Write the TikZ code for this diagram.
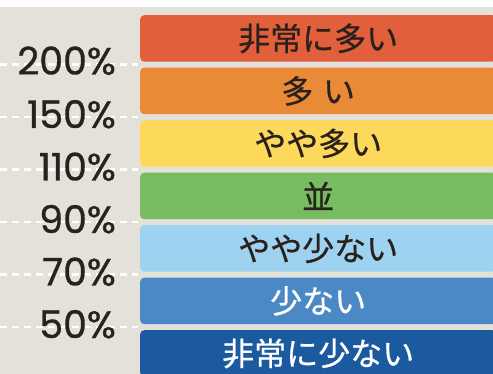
\documentclass[tikz,border=0pt]{standalone}
\usepackage{fontspec}
\setmainfont{Poppins}[FakeBold=0.9]
\newfontfamily\jpfont{Noto Sans CJK JP}[FakeBold=0.7]
\usetikzlibrary{positioning}

\definecolor{bgbeige}{HTML}{E4E0DA}
\definecolor{inkdark}{HTML}{2A211D}
\definecolor{lvA}{HTML}{E25F3B}
\definecolor{lvB}{HTML}{E98A36}
\definecolor{lvC}{HTML}{FDD95B}
\definecolor{lvD}{HTML}{77BC60}
\definecolor{lvE}{HTML}{9DD2F1}
\definecolor{lvF}{HTML}{4A88C6}
\definecolor{lvG}{HTML}{1B5A9F}

\begin{document}
\begin{tikzpicture}[x=1pt, y=-1pt,
	level/.style={anchor=north west, minimum width=356pt, minimum height=46.5pt, inner sep=0pt,
		rounded corners=4pt, font=\jpfont\fontsize{32}{32}\selectfont, text=inkdark},
	pct/.style={anchor=base east, inner sep=0pt, font=\fontsize{38}{38}\selectfont, text=inkdark},
	scale line/.style={white, line width=2.5pt, dash pattern=on 7pt off 5pt}]
		\useasboundingbox (0,0) rectangle (493,374);
		\fill[white] (0,0) rectangle (493,374);
		\fill[bgbeige] (0,7) rectangle (493,374);
		
		\node[level, fill=lvA] (vmany) at (140,15) {非常に多い};
		\node[level, fill=lvB] (many) at (140,67.5) {多\hspace{0.3em}い};
		\node[level, fill=lvC] (smany) at (140,120) {やや多い};
		\node[level, fill=lvD] (avg) at (140,172.5) {並};
		\node[level, fill=lvE] (sfew) at (140,225) {やや少ない};
		\node[level, fill=lvF, text=white] (few) at (140,277.5) {少ない};
		\node[level, fill=lvG, text=white] (vfew) at (140,330) {非常に少ない};
		
		\coordinate (l200) at (0,64.5);
		\coordinate (l150) at (0,117);
		\coordinate (l110) at (0,169.5);
		\coordinate (l90) at (0,222);
		\coordinate (l70) at (0,274.5);
		\coordinate (l50) at (0,327);
		\foreach \l in {l200,l150,l110,l90,l70,l50}
			\draw[scale line] (\l) -- ++(138,0);
		
		\node[pct] (p200) at (116,74.5) {200\%};
		\node[pct] (p150) at (116,128) {150\%};
		\node[pct] (p110) at (116,180.5) {110\%};
		\node[pct] (p90) at (116,233) {90\%};
		\node[pct] (p70) at (116,285.5) {70\%};
		\node[pct] (p50) at (116,338) {50\%};
	\end{tikzpicture}
\end{document}
